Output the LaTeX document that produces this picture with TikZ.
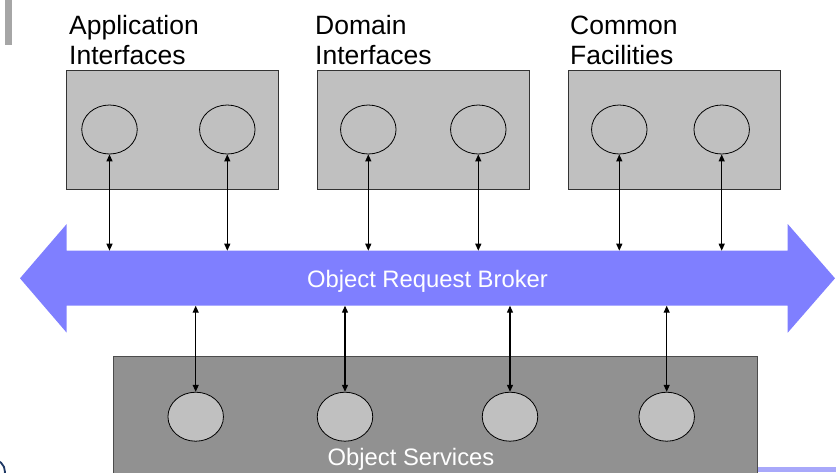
\documentclass[tikz,border=0pt]{standalone}
\usepackage{fontspec}
\setmainfont{Liberation Sans}
\usetikzlibrary{arrows.meta,shapes.geometric}
\definecolor{orbblue}{RGB}{127,127,255}
\definecolor{lightbox}{RGB}{192,192,192}
\definecolor{darkbox}{RGB}{145,145,145}
\definecolor{stripblue}{RGB}{168,168,250}
\definecolor{navy}{RGB}{31,56,100}
\definecolor{bargray}{RGB}{166,166,166}
\tikzset{
  lbl/.style={anchor=north west, inner sep=0pt, align=left, font=\fontsize{26.5}{30}\selectfont},
  whitelbl/.style={anchor=base, inner sep=0pt, text=white, font=\fontsize{23.8}{30}\selectfont},
  topbox/.style={draw=black!80, line width=0.9pt, fill=lightbox, minimum width=212pt, minimum height=119pt, inner sep=0pt},
  botbox/.style={draw=black!70, line width=0.9pt, fill=darkbox, minimum width=644pt, minimum height=143.3pt, inner sep=0pt},
  obj/.style={ellipse, draw=black, line width=0.8pt, minimum width=55.5pt, minimum height=49pt, inner sep=0pt},
  svc/.style={obj, fill=lightbox},
  link/.style={line width=1.2pt, {Triangle[width=6pt,length=7pt]}-{Triangle[width=6pt,length=7pt]}}
}
\begin{document}
\begin{tikzpicture}[x=1pt,y=-1pt]
\useasboundingbox (0,0) rectangle (836,472);
% stray elements at edges
\fill[bargray] (5,0) rectangle (11.7,45);
\fill[stripblue] (740,466.7) rectangle (836,472);
\draw[navy, line width=1.8pt] (-8,472) circle (13);
% top boxes
\node[topbox] (b1) at (172.3,129.5) {};
\node[topbox] (b2) at (423,129.5) {};
\node[topbox] (b3) at (674.2,129.5) {};
\node[lbl] (l1) at (69,15.5) {Application\\Interfaces};
\node[lbl] (l2) at (315,15.5) {Domain\\Interfaces};
\node[lbl] (l3) at (570,15.5) {Common\\Facilities};
\node[obj] (c1) at (109.5,129.5) {};
\node[obj] (c2) at (227.3,129.5) {};
\node[obj] (c3) at (368.3,129.5) {};
\node[obj] (c4) at (478.3,129.5) {};
\node[obj] (c5) at (619.3,129.5) {};
\node[obj] (c6) at (721.7,129.5) {};
% ORB arrow
\fill[orbblue] (20,278.3) -- (66.7,224) -- (66.7,250.7) -- (787.7,250.7) -- (787.7,224)
  -- (835,278.3) -- (787.7,332.7) -- (787.7,305.7) -- (66.7,305.7) -- (66.7,332.7) -- cycle;
\coordinate (orbtop) at (0,250.7);
\coordinate (orbbot) at (0,305.7);
\node[whitelbl] (orb) at (427.5,287.3) {Object Request Broker};
% bottom box
\node[botbox] (bb) at (435,428.35) {};
\node[svc] (s1) at (195.7,416.7) {};
\node[svc] (s2) at (345,416.7) {};
\node[svc] (s3) at (510,416.7) {};
\node[svc] (s4) at (666.7,416.7) {};
\node[whitelbl] (os) at (411,465) {Object Services};
% connectors
\foreach \c in {c1,c2,c3,c4,c5,c6}
  \draw[link] (\c.south) -- (\c.south |- orbtop);
\foreach \s in {s1,s2,s3,s4}
  \draw[link] (\s.north |- orbbot) -- (\s.north);
\end{tikzpicture}
\end{document}
